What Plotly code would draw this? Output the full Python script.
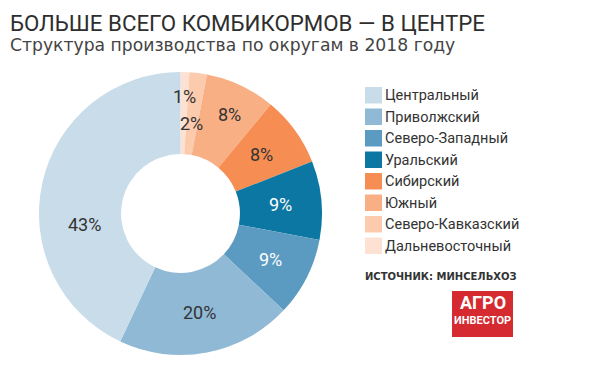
import math
import plotly.graph_objects as go

# ---- data ----
regions = ["Центральный", "Приволжский", "Северо-Западный", "Уральский",
           "Сибирский", "Южный", "Северо-Кавказский", "Дальневосточный"]
shares = [43, 20, 9, 9, 8, 8, 2, 1]

title_text = "БОЛЬШЕ ВСЕГО КОМБИКОРМОВ — В ЦЕНТРЕ"
subtitle_text = "Структура производства по округам в 2018 году"
source_text = "ИСТОЧНИК: МИНСЕЛЬХОЗ"

# ---- style ----
colors = ["#c9dcea", "#90b9d6", "#5b9bc1", "#0d77a3",
          "#f68d52", "#f9af84", "#fccaad", "#fde2d3"]
label_colors = ["#333333", "#333333", "#ffffff", "#ffffff",
                "#333333", "#333333", "#333333", "#333333"]
label_radius = [0.68, 0.71, 0.71, 0.71, 0.71, 0.78, 0.64, 0.83]
label_angle_shift = [19, 0, 0, 0, 0, -1, 0, 0]

OFF = 8                 # default page body margin
W, H = 600 - OFF, 367 - OFF
CX, CY, R = 180.5, 213.5, 141.5   # page pixel coords
HOLE = 0.42
FONT = "Roboto, Liberation Sans, sans-serif"


def px(x):
    return (x - OFF) / W


def py(y):
    return 1 - (y - OFF) / H


fig = go.Figure()
# slices laid out clockwise from 12 o'clock in reverse legend order
fig.add_trace(go.Pie(
    labels=regions[::-1], values=shares[::-1], sort=False, direction="clockwise",
    rotation=0, hole=HOLE, textinfo="none", hoverinfo="label+percent",
    marker=dict(colors=colors[::-1], line=dict(width=0)),
    domain=dict(x=[px(CX - R), px(CX + R)], y=[py(CY + R), py(CY - R)]),
    showlegend=False,
))

annotations = []
total = sum(shares)
cum = 0
for i, v in enumerate(shares):
    theta = math.radians(360 * (cum + v / 2) / total + label_angle_shift[i])
    r = label_radius[i] * R
    xp = CX - math.sin(theta) * r
    yp = CY - math.cos(theta) * r
    annotations.append(dict(
        x=px(xp), y=py(yp), xref="paper", yref="paper", showarrow=False,
        text=f"{v}%", font=dict(family=FONT, size=18, color=label_colors[i]),
        xanchor="center", yanchor="middle"))
    cum += v

# title & subtitle
annotations.append(dict(x=px(8), y=1, xref="paper", yref="paper", showarrow=False,
                        text=title_text, xanchor="left", yanchor="top",
                        font=dict(family=FONT, size=22.3, color="#2e2e2e")))
annotations.append(dict(x=px(8), y=py(44.5), xref="paper", yref="paper", showarrow=False,
                        text=subtitle_text, xanchor="left", yanchor="middle",
                        font=dict(family="DejaVu Sans", size=17.2, color="#444444")))

# manual legend
shapes = []
for i, name in enumerate(regions):
    y0 = 87 + 21.5 * i
    shapes.append(dict(type="rect", xref="paper", yref="paper",
                       x0=px(365), x1=px(382), y0=py(y0 + 16.5), y1=py(y0),
                       fillcolor=colors[i], line=dict(width=0)))
    annotations.append(dict(x=px(383), y=py(y0 + 8.5), xref="paper", yref="paper",
                            showarrow=False, text=name, xanchor="left", yanchor="middle",
                            font=dict(family=FONT, size=14.5, color="#333333")))

# source
annotations.append(dict(x=px(363), y=py(276), xref="paper", yref="paper", showarrow=False,
                        text=f"<b>{source_text}</b>", xanchor="left", yanchor="middle",
                        font=dict(family="DejaVu Sans", size=10, color="#333333")))

# logo
shapes.append(dict(type="rect", xref="paper", yref="paper",
                   x0=px(452), x1=px(513), y0=py(337), y1=py(291),
                   fillcolor="#d52a2f", line=dict(width=0)))
annotations.append(dict(x=px(482.5), y=py(302.5), xref="paper", yref="paper", showarrow=False,
                        text="<b>АГРО</b>", xanchor="center", yanchor="middle",
                        font=dict(family=FONT, size=18, color="#ffffff")))
annotations.append(dict(x=px(482.5), y=py(320.5), xref="paper", yref="paper", showarrow=False,
                        text="<b>ИНВЕСТОР</b>", xanchor="center", yanchor="middle",
                        font=dict(family=FONT, size=11, color="#ffffff")))

fig.update_layout(
    width=W, height=H, margin=dict(l=0, r=0, t=0, b=0),
    paper_bgcolor="white", plot_bgcolor="white",
    annotations=annotations, shapes=shapes,
)

fig.write_html("out.html")
